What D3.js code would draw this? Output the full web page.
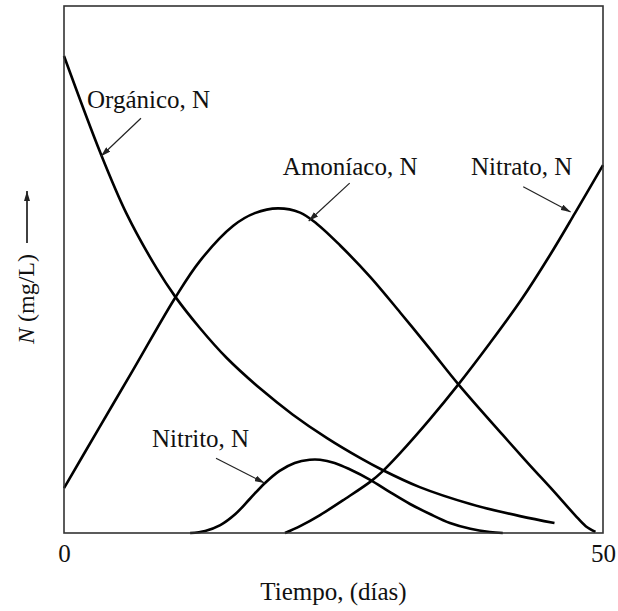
<!DOCTYPE html>
<html>
<head>
<meta charset="utf-8">
<script src="https://cdn.jsdelivr.net/npm/d3@7"></script>
<style>
  body { margin: 0; background: #fff; }
  text { font-family: "Liberation Serif", "Times New Roman", serif; fill: #111; }
</style>
</head>
<body>
<div id="chart"></div>
<script>
// [dia, N] (unidades relativas, 0-100)
var organico = [[0, 90.5], [3.4, 72.0], [5.8, 60.6], [8.6, 50.2], [10.3, 44.9], [12.6, 38.9],
  [15.1, 33.2], [18.2, 27.4], [21.2, 22.5], [24.4, 18.0], [27.5, 14.2], [29.5, 12.0],
  [33.0, 8.7], [37.7, 5.5], [42.3, 3.2], [45.5, 1.9]];
var amoniaco = [[0, 8.5], [3.3, 20.1], [6.4, 30.9], [10.3, 44.6], [12.6, 51.6], [15.7, 58.3],
  [17.7, 60.7], [19.85, 61.6], [21.9, 60.8], [23.5, 58.6], [25.6, 54.6], [28.4, 48.6],
  [31.2, 41.8], [34.0, 34.8], [36.55, 28.3], [40.7, 18.6], [43.2, 12.9], [45.4, 8.0],
  [47.4, 3.4], [48.4, 1.3], [49.3, 0.2]];
var nitrito = [[11.7, 0], [13.1, 0.4], [14.5, 1.5], [15.9, 3.6], [17.25, 6.5], [18.65, 9.5],
  [20.0, 11.8], [21.4, 13.3], [22.8, 13.9], [23.75, 13.9], [25.1, 13.3], [26.5, 12.1],
  [28.4, 10.1], [30.2, 7.8], [32.1, 5.5], [33.95, 3.6], [35.8, 1.9], [37.7, 0.8],
  [39.5, 0.2], [40.7, 0]];
var nitrato = [[20.5, 0], [21.9, 1.3], [23.75, 3.4], [26.1, 6.5], [28.4, 9.7], [29.5, 11.6],
  [31.2, 15.2], [33.95, 21.6], [36.55, 28.1], [39.5, 36.0], [42.4, 44.2], [45.1, 52.8],
  [47.4, 60.7], [50, 69.8]];

var xTicks = [0, 50];
var nombres = ["Orgánico, N", "Amoníaco, N", "Nitrito, N", "Nitrato, N"];

// etiqueta (dia, N) y flecha desde -> hasta, en unidades de datos
var notas = [
  { label: nombres[0], at: [2.13, 80.6], from: [7.14, 78.7], to: [3.43, 71.5] },
  { label: nombres[1], at: [20.3, 67.9], from: [26.5, 66.4], to: [22.7, 59.2] },
  { label: nombres[2], at: [8.16, 16.3], from: [14.1, 14.2], to: [18.6, 9.5] },
  { label: nombres[3], at: [37.75, 67.9], from: [42.6, 65.7], to: [47.0, 60.9] }
];

var W = 618, H = 611;
var margin = { top: 6, right: 15, bottom: 78, left: 64 },
    width = W - margin.left - margin.right,
    height = H - margin.top - margin.bottom;

var root = d3.select("#chart").append("svg")
    .attr("width", W)
    .attr("height", H);

var defs = root.append("defs");
defs.append("marker")
    .attr("id", "head")
    .attr("viewBox", "0 0 10 6")
    .attr("refX", 10).attr("refY", 3)
    .attr("markerWidth", 10).attr("markerHeight", 6)
    .attr("markerUnits", "userSpaceOnUse")
    .attr("orient", "auto")
  .append("path")
    .attr("d", "M0,0 L10,3 L0,6 Z")
    .attr("fill", "#222");

var svg = root.append("g")
    .attr("transform", "translate(" + margin.left + "," + margin.top + ")");

var x = d3.scaleLinear().domain([0, 50]).range([0, width]);
var y = d3.scaleLinear().domain([0, 100]).range([height, 0]);

var line = d3.line()
    .x(function (d) { return x(d[0]); })
    .y(function (d) { return Math.min(y(d[1]), height); })
    .curve(d3.curveCatmullRom.alpha(0.5));

[organico, amoniaco, nitrito, nitrato].forEach(function (serie) {
  svg.append("path")
      .datum(serie)
      .attr("d", line)
      .attr("fill", "none")
      .attr("stroke", "#000")
      .attr("stroke-width", 2.6)
      .attr("stroke-linejoin", "round");
});

// marco
svg.append("rect")
    .attr("x", 0).attr("y", 0)
    .attr("width", width).attr("height", height)
    .attr("fill", "none")
    .attr("stroke", "#333")
    .attr("stroke-width", 1.6);

// eje x: solo 0 y 50
var xAxis = svg.append("g")
    .attr("transform", "translate(0," + height + ")")
    .call(d3.axisBottom(x).tickValues(xTicks).tickSize(0).tickFormat(d3.format("d")));
xAxis.select(".domain").remove();
xAxis.selectAll("text")
    .attr("y", 29).attr("dy", 0)
    .style("font-size", "25px")
    .style("font-family", "Liberation Serif")
    .attr("fill", "#111");

svg.append("text")
    .attr("x", width / 2)
    .attr("y", height + 67)
    .attr("text-anchor", "middle")
    .style("font-size", "25px")
    .text("Tiempo, (días)");

// titulo eje y con flecha
var yt = root.append("text")
    .attr("transform", "translate(34," + 299 + ") rotate(-90)")
    .attr("text-anchor", "middle")
    .style("font-size", "24px");
yt.append("tspan").style("font-style", "italic").text("N");
yt.append("tspan").text(" (mg/L)");

root.append("line")
    .attr("x1", 27).attr("y1", 243)
    .attr("x2", 27).attr("y2", 191)
    .attr("stroke", "#111")
    .attr("stroke-width", 1.6)
    .attr("marker-end", "url(#head)");

// etiquetas y flechas
notas.forEach(function (n) {
  svg.append("text")
      .attr("x", x(n.at[0]))
      .attr("y", y(n.at[1]))
      .style("font-size", "25px")
      .text(n.label);
  svg.append("line")
      .attr("x1", x(n.from[0])).attr("y1", y(n.from[1]))
      .attr("x2", x(n.to[0])).attr("y2", y(n.to[1]))
      .attr("stroke", "#222")
      .attr("stroke-width", 1.2)
      .attr("marker-end", "url(#head)");
});
</script>
</body>
</html>
